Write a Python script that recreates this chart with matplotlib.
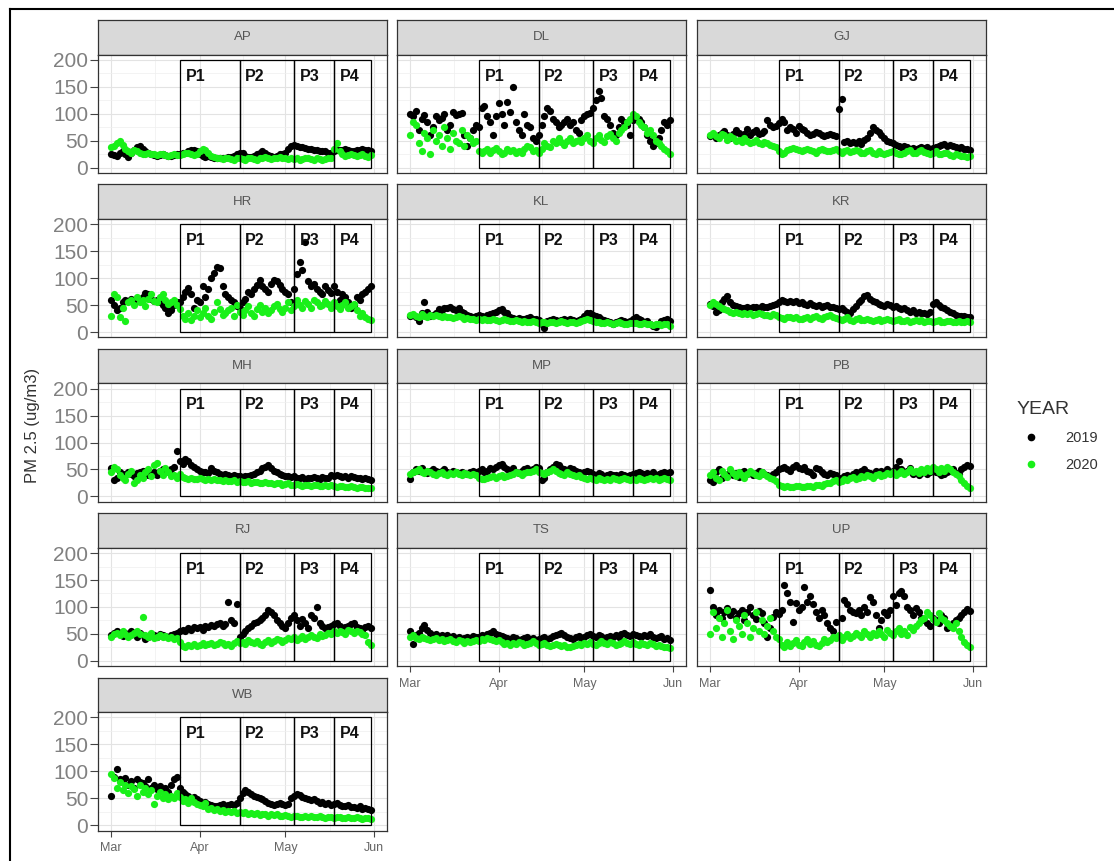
import numpy as np
import pandas as pd
import matplotlib
matplotlib.use("Agg")
import matplotlib.pyplot as plt
import matplotlib.dates as mdates
from matplotlib.patches import Rectangle
from matplotlib.lines import Line2D

plt.rcParams['font.family'] = ['Liberation Sans', 'DejaVu Sans']

# daily PM2.5, 1 Mar - 31 May (92 days)
days = pd.date_range('2020-03-01', '2020-05-31')

states = ['AP', 'DL', 'GJ', 'HR', 'KL', 'KR', 'MH', 'MP', 'PB', 'RJ', 'TS', 'UP', 'WB']

AP_2019 = [25,23,22,28,30,25,20,28,33,38,40,35,30,28,25,24,22,23,25,24,
           22,22,24,25,26,27,28,30,32,33,30,25,22,20,22,20,18,17,18,17,
           18,19,20,22,25,28,27,22,20,20,22,25,27,30,28,24,22,20,22,25,
           26,28,35,40,42,40,38,38,36,35,34,33,32,31,30,30,28,27,30,32,
           33,32,34,33,31,30,32,33,34,32,33,30]
AP_2020 = [38,40,45,50,42,35,30,28,32,30,28,26,25,27,26,25,24,26,25,24,
           22,24,25,23,24,26,28,27,25,24,26,30,35,32,28,22,20,18,17,16,
           17,18,16,15,17,18,16,15,17,18,16,15,17,18,20,18,16,17,18,20,
           18,17,16,18,16,17,15,16,18,17,16,15,17,16,15,16,17,18,35,45,
           30,25,22,24,26,23,22,24,25,22,20,24]

DL_2019 = [100,95,105,70,90,98,85,60,75,95,88,92,100,70,80,104,98,100,102,60,
           40,55,70,80,75,110,115,95,85,60,95,120,100,80,121,103,150,85,70,60,
           100,80,75,55,50,60,80,95,110,105,90,85,75,80,85,90,80,85,70,65,
           88,95,100,102,110,125,143,130,95,90,80,65,60,75,90,85,80,60,88,92,
           90,85,75,60,50,40,45,55,70,85,80,88]
DL_2020 = [60,85,80,45,30,65,55,25,70,50,60,40,75,55,35,65,50,45,70,40,
           60,55,45,50,30,27,30,35,28,32,36,30,25,28,35,30,33,27,30,28,
           35,40,38,30,32,27,35,45,40,38,50,45,55,48,42,50,55,45,50,52,
           48,55,60,50,45,55,60,52,48,58,62,55,50,65,70,75,85,90,100,95,
           85,80,75,65,70,60,50,45,40,35,30,25]

GJ_2019 = [58,62,55,60,65,68,60,55,62,70,65,58,62,72,60,66,70,62,65,68,
           88,80,75,78,82,90,85,70,75,72,65,78,72,70,65,60,62,66,64,60,
           58,60,62,60,58,108,128,48,50,45,48,46,50,44,52,55,65,75,70,66,
           60,55,50,48,46,42,40,38,40,38,35,36,35,36,38,36,38,34,36,38,
           40,42,44,40,42,40,38,36,38,35,34,33]
GJ_2020 = [60,65,58,55,62,60,52,58,55,50,52,48,55,50,45,48,52,46,44,48,
           45,42,40,38,30,25,28,32,35,36,34,32,30,33,35,32,30,28,32,34,
           33,31,30,32,34,30,28,30,32,29,31,33,30,28,27,30,32,28,26,30,
           28,26,27,29,30,28,26,25,27,30,32,28,27,30,33,29,27,25,28,30,
           26,25,28,27,24,22,25,24,22,21,20,22]

HR_2019 = [60,50,41,45,55,60,58,62,55,58,62,65,73,70,62,58,60,55,50,45,
           35,40,50,55,55,65,75,82,70,45,60,55,85,65,80,100,110,120,118,85,
           70,65,60,55,48,45,55,62,75,70,80,88,97,85,80,75,90,97,95,88,
           80,75,70,55,80,107,130,115,168,95,85,90,80,75,70,85,78,72,85,75,
           60,70,65,55,45,50,65,60,70,75,80,85]
HR_2020 = [30,70,65,27,45,20,55,60,50,65,55,60,48,62,70,58,55,65,70,60,
           52,55,60,50,42,30,25,35,22,30,40,28,35,45,30,25,38,55,42,32,
           35,40,45,30,50,38,32,40,48,35,30,42,50,38,45,35,40,48,52,42,
           38,45,55,40,48,60,50,45,58,52,45,60,55,48,50,58,52,45,55,48,
           42,50,55,45,48,52,40,30,35,28,25,22]

KL_2019 = [30,32,28,20,35,56,38,30,32,36,42,40,45,44,46,42,40,45,38,35,
           32,30,28,30,32,30,28,32,34,36,38,40,42,38,35,28,26,25,26,24,
           25,26,27,25,24,22,15,7,20,22,24,22,20,22,24,22,25,23,20,22,
           25,30,35,35,32,30,28,25,22,20,18,15,18,20,22,20,18,20,25,28,
           24,22,18,20,15,12,10,15,20,22,25,20]
KL_2020 = [32,34,30,28,33,30,28,31,29,32,30,28,30,27,28,26,28,30,27,25,
           26,24,25,23,24,22,25,23,22,24,23,21,22,24,22,20,21,22,20,19,
           20,18,19,20,18,17,19,18,17,18,19,17,18,20,18,17,19,18,16,18,
           20,22,24,22,20,18,19,17,16,18,17,15,16,18,17,15,14,16,17,16,
           15,14,16,15,14,13,15,14,13,15,14,12]

KR_2019 = [52,48,38,40,55,62,66,55,50,48,46,45,44,46,45,47,46,45,48,46,
           47,48,50,52,55,60,58,56,57,55,58,54,56,52,50,53,50,48,50,46,
           48,50,47,46,44,42,45,40,38,36,42,48,55,60,66,69,62,58,55,52,
           50,48,52,50,46,48,45,42,44,40,38,40,36,38,35,36,34,38,52,55,
           50,46,44,40,38,36,32,30,29,30,28,27]
KR_2020 = [50,55,52,48,45,42,40,38,36,38,35,34,36,33,35,32,34,36,33,31,
           32,30,33,31,28,26,25,27,28,26,27,25,24,26,28,25,27,29,26,24,
           27,30,32,28,26,24,22,25,27,23,21,24,26,22,23,25,22,20,22,24,
           21,23,25,22,20,22,24,21,20,22,19,21,23,20,22,19,21,20,18,20,
           22,19,18,20,21,19,18,20,19,18,20,19]

MH_2019 = [52,30,35,45,42,40,45,42,38,44,46,48,44,40,42,45,40,48,50,45,
           48,50,55,85,65,60,70,65,58,55,50,48,46,45,44,52,48,45,42,40,
           42,40,38,40,37,38,36,37,38,40,42,45,48,52,55,59,52,48,45,42,
           40,38,37,36,38,35,34,36,33,35,34,36,35,33,36,34,35,40,38,39,
           37,36,38,35,37,36,34,35,33,34,32,31]
MH_2020 = [45,55,50,40,35,30,42,48,25,30,40,35,45,50,38,58,62,48,40,52,
           45,38,40,35,42,36,35,33,34,32,33,34,32,31,33,30,32,30,31,29,
           30,28,29,30,27,28,27,26,28,25,26,27,25,24,26,25,24,23,25,24,
           22,23,24,22,21,23,22,20,21,22,20,21,22,20,19,21,20,22,20,18,
           19,20,18,17,19,18,16,17,18,16,15,16]

MP_2019 = [33,45,50,48,52,46,44,48,50,47,45,48,50,46,44,47,45,43,46,44,
           42,45,48,46,47,50,45,48,52,50,55,58,60,55,50,48,52,46,44,48,
           50,52,48,50,55,52,30,35,45,50,55,60,58,52,50,48,52,50,47,45,
           44,46,48,45,42,40,43,41,38,40,42,39,40,38,42,40,38,40,42,44,
           46,43,41,44,42,45,40,42,44,46,43,45]
MP_2020 = [42,45,48,50,46,44,47,45,42,40,44,46,42,40,43,41,45,42,40,43,
           41,39,42,40,35,33,32,34,36,38,35,37,39,36,38,40,42,45,43,40,
           44,46,45,48,50,46,44,42,45,48,50,47,44,42,40,45,42,40,38,40,
           36,34,32,35,33,31,34,32,30,33,31,34,32,30,33,35,32,30,33,31,
           34,32,30,33,35,32,34,31,33,35,32,30]

PB_2019 = [30,27,45,50,35,42,38,46,40,44,36,45,48,42,46,40,44,48,45,42,
           40,38,42,45,50,52,55,50,48,55,58,52,50,54,48,45,40,52,50,45,
           42,40,44,42,40,35,32,38,40,36,42,45,40,48,50,46,44,42,47,45,
           48,44,50,46,48,55,65,50,45,48,52,42,46,40,44,48,42,45,50,46,
           44,40,42,45,48,50,44,42,50,55,58,56]
PB_2020 = [40,45,35,30,48,42,36,50,44,38,46,40,35,42,48,44,40,38,45,42,
           38,35,32,28,22,20,18,19,17,18,20,19,18,17,19,20,18,21,22,20,
           23,25,24,28,30,26,28,32,30,34,36,32,35,38,36,40,38,35,40,42,
           38,40,44,42,46,40,44,48,42,45,50,46,48,44,50,46,52,48,55,50,
           46,52,48,54,50,46,42,38,30,25,20,15]

RJ_2019 = [48,52,55,50,46,52,48,55,50,45,52,48,40,45,50,47,44,50,48,46,
           45,48,50,52,55,58,55,60,58,62,60,63,58,65,62,66,64,68,70,65,
           68,110,75,70,105,45,50,55,60,65,70,72,75,80,85,95,90,85,75,70,
           65,60,70,80,85,75,65,78,70,60,85,80,100,70,65,60,62,65,68,70,
           64,60,62,65,68,70,62,60,58,62,65,60]
RJ_2020 = [45,50,52,48,55,50,45,48,52,55,50,82,48,45,52,42,45,48,44,46,
           42,45,40,42,35,28,25,30,27,32,28,30,33,29,31,34,30,32,35,33,
           30,32,28,34,36,33,35,32,38,35,33,36,32,30,35,38,34,36,40,38,
           35,38,42,40,44,38,42,46,40,45,48,44,42,50,46,48,52,50,55,52,
           56,54,50,58,55,52,56,54,50,48,35,30]

TS_2019 = [55,32,48,52,60,67,58,52,48,50,46,48,45,47,44,46,42,44,40,42,
           45,43,46,44,45,48,46,50,52,55,50,48,46,44,42,40,44,42,38,40,
           42,44,40,42,38,40,42,44,40,42,46,48,50,52,48,45,42,40,44,46,
           43,45,48,50,46,44,48,46,42,44,46,45,48,44,50,52,48,46,50,48,
           46,44,48,46,50,45,42,44,46,40,42,38]
TS_2020 = [45,48,42,40,44,42,40,38,40,42,38,40,36,38,40,37,35,38,36,34,
           37,35,36,38,36,40,38,42,40,38,36,38,35,32,34,30,33,31,35,33,
           30,32,34,36,33,30,32,34,30,28,30,32,29,27,30,26,25,28,30,32,
           30,33,31,35,32,30,34,36,33,31,35,33,30,32,34,36,33,31,35,32,
           30,34,32,30,33,31,28,30,27,26,25,24]

UP_2019 = [132,100,85,95,80,90,98,85,92,80,88,95,75,90,100,85,78,92,88,70,
           45,60,82,90,87,95,141,125,110,72,108,95,100,137,110,120,105,90,80,95,
           85,70,60,55,72,45,80,112,105,95,90,88,95,85,100,90,118,110,85,60,
           75,90,85,95,120,103,125,130,120,100,95,85,98,90,80,75,70,65,80,75,
           70,85,80,60,65,70,75,80,85,90,96,92]
UP_2020 = [50,90,60,80,45,70,95,55,40,75,65,50,85,70,45,60,90,55,75,50,
           65,80,55,45,40,30,25,35,28,33,38,30,27,35,40,32,36,30,28,34,
           40,35,38,45,42,48,38,44,50,42,46,52,48,44,55,50,45,52,48,55,
           50,45,58,52,48,55,60,50,56,48,62,58,65,70,75,80,90,85,78,72,
           88,80,75,70,65,60,70,55,45,35,30,25]

WB_2019 = [55,90,105,85,80,88,75,82,70,85,80,78,72,85,70,75,68,72,65,70,
           62,75,85,90,70,62,58,55,50,52,48,45,42,44,40,38,35,36,38,40,
           35,37,40,38,42,50,60,65,62,58,55,52,50,48,45,42,40,38,40,42,
           40,38,40,50,55,58,56,52,50,48,46,48,45,42,44,40,42,38,40,42,
           38,36,35,38,34,33,32,35,30,32,30,28]
WB_2020 = [95,88,70,80,65,75,60,72,68,55,75,62,70,58,65,40,55,62,50,58,
           48,55,50,60,52,45,48,42,50,44,40,38,35,42,30,32,28,30,27,28,
           25,27,24,26,23,25,22,24,21,23,20,22,19,21,20,18,20,19,21,18,
           17,19,18,16,17,18,16,15,17,16,18,15,16,17,15,14,16,15,14,15,
           16,14,13,15,14,13,15,14,12,13,14,12]

# lockdown phases
phase_labels = ['P1', 'P2', 'P3', 'P4']
phase_edges = ['2020-03-25', '2020-04-15', '2020-05-04', '2020-05-18', '2020-05-31']

data = {s: (globals()[s + '_2019'], globals()[s + '_2020']) for s in states}

W, H = 1114, 861
fig = plt.figure(figsize=(W / 100, H / 100), dpi=100)

col_x = [98, 397, 697]
pw = 289
row_pitch = 164.4
strip_h = 34.5
panel_h = 118.5
c2019 = 'black'
c2020 = '#19f019'

x0 = mdates.date2num(pd.Timestamp('2020-03-01'))
x1 = mdates.date2num(pd.Timestamp('2020-06-01'))
pad = (x1 - x0) * 0.05
majors = [mdates.date2num(pd.Timestamp(d)) for d in ['2020-03-01', '2020-04-01', '2020-05-01', '2020-06-01']]
minors = [(a + b) / 2 for a, b in zip(majors[:-1], majors[1:])]
pe = [mdates.date2num(pd.Timestamp(d)) for d in phase_edges]

ncols = 3
nstates = len(states)
for i, st in enumerate(states):
    r, c = divmod(i, ncols)
    top = 20 + row_pitch * r
    left = col_x[c]
    # strip
    sax = fig.add_axes([left / W, 1 - (top + strip_h) / H, pw / W, strip_h / H])
    sax.set_facecolor('#d9d9d9')
    sax.set_xticks([])
    sax.set_yticks([])
    for sp in sax.spines.values():
        sp.set_color('#333333')
        sp.set_linewidth(0.9)
    sax.text(0.5, 0.5, st, ha='center', va='center', fontsize=9.5, color='#555555',
             transform=sax.transAxes)

    ax = fig.add_axes([left / W, 1 - (top + strip_h + panel_h) / H, pw / W, panel_h / H])
    ax.set_xlim(x0 - pad, x1 + pad)
    ax.set_ylim(-10, 210)
    ax.set_xticks(majors)
    ax.set_xticks(minors, minor=True)
    ax.set_yticks([0, 50, 100, 150, 200])
    ax.set_yticks([25, 75, 125, 175], minor=True)
    ax.grid(which='major', color='#e3e3e3', linewidth=0.8, zorder=0)
    ax.grid(which='minor', color='#efefef', linewidth=0.5, zorder=0)
    ax.set_axisbelow(True)
    for sp in ax.spines.values():
        sp.set_color('#333333')
        sp.set_linewidth(0.9)
    ax.tick_params(which='minor', length=0)
    ax.tick_params(axis='y', which='major', length=5.5, width=0.8, color='#444444', pad=1.5)
    ax.tick_params(axis='x', which='major', length=4, width=0.8, color='#444444', pad=4.5)

    v19, v20 = data[st]
    ax.scatter(days, v19, s=27, color=c2019, linewidths=0, zorder=3)
    ax.scatter(days, v20, s=27, color=c2020, linewidths=0, zorder=4)

    for k in range(4):
        ax.add_patch(Rectangle((pe[k], 0), pe[k + 1] - pe[k], 200, fill=False,
                               edgecolor='black', linewidth=0.9, zorder=5))
        ax.text(pe[k] + 2.0, 170, phase_labels[k], fontsize=11.5, fontweight='bold',
                ha='left', va='center', color='#111111', zorder=6)

    if c == 0:
        ax.set_yticklabels(['0', '50', '100', '150', '200'], fontsize=15, color='#808080')
    else:
        ax.tick_params(axis='y', which='both', left=False, labelleft=False)
    bottom_of_col = i + ncols >= nstates
    if bottom_of_col:
        ax.set_xticklabels(['Mar', 'Apr', 'May', 'Jun'], fontsize=9, color='#666666')
    else:
        ax.tick_params(axis='x', which='both', bottom=False, labelbottom=False)

fig.text(33 / W, 1 - 425 / H, 'PM 2.5 (ug/m3)', rotation=90, ha='center', va='center',
         fontsize=12, color='#333333')

handles = [Line2D([], [], marker='o', linestyle='', color=c2019, markersize=4.5),
           Line2D([], [], marker='o', linestyle='', color=c2020, markersize=4.5)]
leg = fig.legend(handles, ['2019', '2020'], title='YEAR', loc='upper left',
                 bbox_to_anchor=(1003 / W, 1 - 388 / H), frameon=False,
                 fontsize=10.5, title_fontsize=14, handletextpad=1.4, labelspacing=0.9)
leg._legend_box.align = 'left'
for t in leg.get_texts():
    t.set_color('#333333')
leg.get_title().set_color('#333333')

# outer frame of the screenshot
fig.add_artist(Line2D([10 / W, 1], [1 - 9 / H, 1 - 9 / H], color='black', linewidth=1.5))
fig.add_artist(Line2D([10 / W, 10 / W], [0, 1 - 9 / H], color='black', linewidth=1.5))

fig.savefig('out.png', dpi=100)
